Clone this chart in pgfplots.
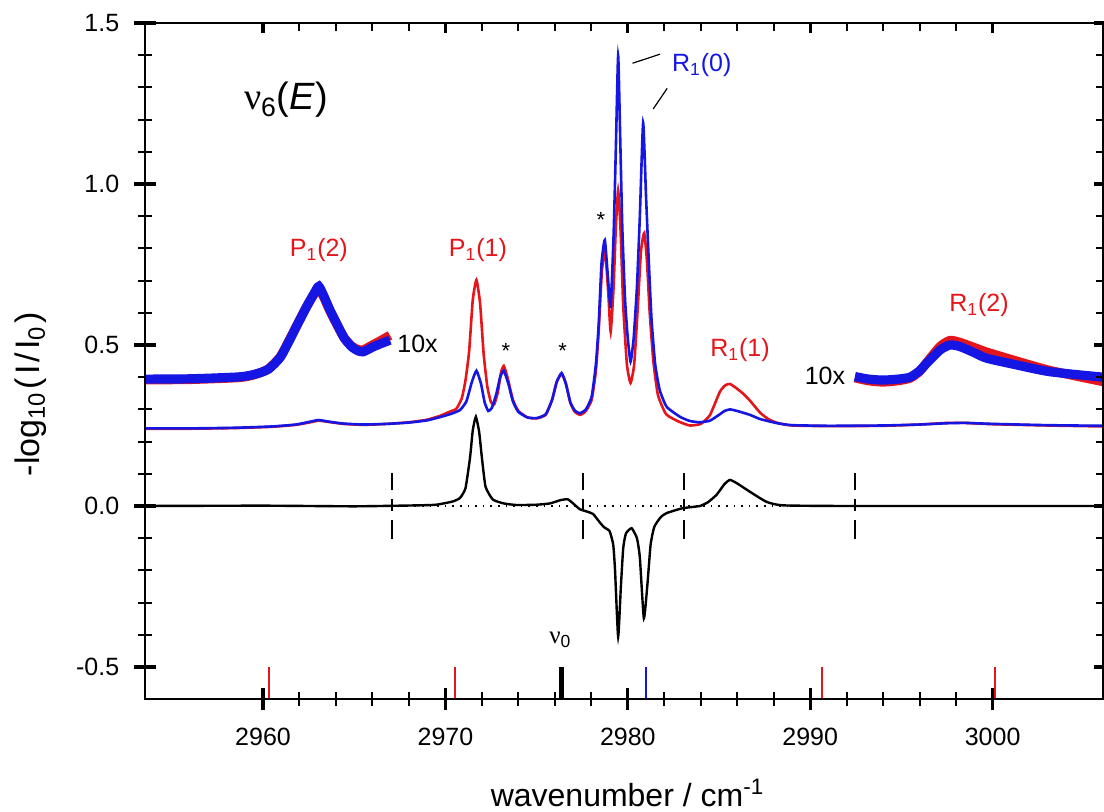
\documentclass[border=0pt]{standalone}
\usepackage{pgfplots}
\pgfplotsset{compat=1.18}
\usepackage{fontspec}
\setmainfont{Liberation Sans}
\newfontfamily\gr{Liberation Serif}
\definecolor{myred}{RGB}{228,22,28}
\definecolor{myblue}{RGB}{22,22,228}

\pgfplotstableread{
x y
2953.53 0.241
2956.0 0.241
2958.5 0.243
2960.5 0.247
2961.8 0.253
2962.6 0.262
2963.05 0.267
2963.6 0.262
2964.4 0.256
2965.5 0.253
2966.8 0.255
2968.0 0.259
2969.0 0.266
2969.7 0.276
2970.3 0.286
2970.8 0.298
2971.15 0.325
2971.45 0.385
2971.7 0.420
2971.95 0.380
2972.15 0.322
2972.35 0.295
2972.55 0.305
2972.8 0.350
2973.0 0.400
2973.2 0.420
2973.45 0.380
2973.7 0.325
2974.0 0.292
2974.5 0.275
2975.0 0.273
2975.5 0.285
2975.85 0.330
2976.1 0.385
2976.37 0.413
2976.6 0.380
2976.85 0.322
2977.1 0.296
2977.37 0.288
2977.7 0.300
2978.02 0.340
2978.25 0.440
2978.4 0.560
2978.56 0.754
2978.74 0.826
2978.92 0.702
2979.06 0.619
2979.22 0.840
2979.34 1.100
2979.47 1.398
2979.58 1.150
2979.70 0.860
2979.85 0.640
2980.0 0.520
2980.15 0.448
2980.32 0.520
2980.5 0.680
2980.66 0.900
2980.84 1.190
2981.0 0.960
2981.15 0.760
2981.3 0.580
2981.5 0.440
2981.75 0.360
2982.13 0.308
2982.86 0.277
2983.4 0.264
2983.95 0.260
2984.5 0.265
2985.0 0.283
2985.3 0.295
2985.6 0.300
2986.0 0.295
2986.7 0.283
2987.25 0.270
2988.2 0.257
2989.0 0.251
2991.0 0.249
2994.0 0.250
2996.0 0.253
2997.5 0.257
2998.5 0.258
3000.0 0.255
3003.0 0.251
3006.08 0.249
}\blue

\pgfplotstableread{
x y
2953.53 0.240
2956.0 0.240
2958.5 0.242
2960.5 0.246
2961.8 0.252
2962.6 0.260
2963.05 0.265
2963.6 0.261
2964.4 0.255
2965.5 0.252
2966.8 0.255
2968.0 0.260
2969.0 0.268
2969.7 0.280
2970.2 0.292
2970.6 0.302
2970.9 0.335
2971.1 0.390
2971.3 0.480
2971.5 0.640
2971.7 0.702
2971.9 0.630
2972.1 0.470
2972.3 0.370
2972.5 0.322
2972.68 0.316
2972.88 0.355
2973.05 0.415
2973.2 0.435
2973.4 0.400
2973.7 0.330
2974.0 0.295
2974.5 0.275
2975.0 0.272
2975.5 0.283
2975.85 0.330
2976.1 0.385
2976.37 0.410
2976.6 0.382
2976.85 0.320
2977.1 0.292
2977.4 0.283
2977.7 0.295
2978.02 0.330
2978.25 0.420
2978.4 0.540
2978.58 0.730
2978.76 0.790
2978.93 0.660
2979.06 0.541
2979.22 0.680
2979.34 0.860
2979.47 0.980
2979.6 0.860
2979.75 0.620
2979.95 0.440
2980.15 0.382
2980.35 0.440
2980.55 0.620
2980.72 0.790
2980.9 0.848
2981.05 0.760
2981.2 0.600
2981.4 0.450
2981.65 0.345
2982.1 0.285
2982.8 0.262
2983.4 0.250
2984.0 0.255
2984.5 0.282
2985.05 0.355
2985.35 0.375
2985.6 0.379
2985.9 0.368
2986.3 0.350
2986.7 0.327
2987.25 0.290
2987.7 0.270
2988.2 0.258
2989.0 0.250
2991.0 0.248
2994.0 0.249
2996.0 0.253
2997.5 0.258
2998.5 0.258
3000.0 0.254
3003.0 0.250
3006.08 0.247
}\red

\pgfplotstableread{
x y
2953.53 0.0
2960.0 0.001
2965.0 -0.001
2968.5 0.002
2969.5 0.004
2970.4 0.014
2970.8 0.025
2971.1 0.055
2971.35 0.150
2971.5 0.235
2971.67 0.277
2971.85 0.230
2972.0 0.150
2972.2 0.060
2972.6 0.020
2973.2 0.008
2973.9 0.003
2975.0 0.004
2975.73 0.008
2976.3 0.018
2976.7 0.021
2977.0 0.008
2977.37 -0.010
2977.8 -0.018
2978.1 -0.025
2978.45 -0.050
2978.7 -0.066
2979.0 -0.078
2979.2 -0.120
2979.3 -0.200
2979.47 -0.406
2979.62 -0.250
2979.75 -0.130
2979.9 -0.085
2980.21 -0.069
2980.5 -0.100
2980.66 -0.160
2980.88 -0.349
2981.08 -0.240
2981.25 -0.120
2981.45 -0.065
2981.8 -0.035
2982.13 -0.022
2983.0 -0.007
2983.95 0.000
2984.4 0.012
2984.87 0.035
2985.3 0.068
2985.6 0.081
2986.0 0.070
2986.7 0.044
2987.6 0.013
2988.5 0.002
2992.0 0.0
3006.08 0.0
}\diff

\pgfplotstableread{
x y
2953.53 0.394
2956.0 0.395
2958.7 0.401
2959.6 0.410
2960.3 0.425
2960.95 0.462
2961.5 0.520
2961.9 0.565
2962.4 0.620
2962.8 0.660
2963.06 0.682
2963.35 0.650
2963.7 0.605
2964.1 0.560
2964.45 0.522
2964.85 0.495
2965.2 0.482
2965.5 0.479
2966.0 0.493
2966.5 0.505
2966.96 0.515
}\bluetenL

\pgfplotstableread{
x y
2953.53 0.392
2956.0 0.393
2958.7 0.399
2959.6 0.409
2960.3 0.426
2960.95 0.464
2961.5 0.522
2961.9 0.566
2962.4 0.620
2962.8 0.658
2963.06 0.676
2963.35 0.646
2963.7 0.602
2964.1 0.558
2964.45 0.522
2964.85 0.497
2965.2 0.486
2965.5 0.485
2966.0 0.500
2966.5 0.515
2966.96 0.530
}\redtenL

\pgfplotstableread{
x y
2992.45 0.402
2993.2 0.394
2993.99 0.391
2994.8 0.394
2995.47 0.400
2996.0 0.420
2996.38 0.443
2997.11 0.484
2997.66 0.500
2998.21 0.495
2999.0 0.476
2999.67 0.459
3001.32 0.438
3003.14 0.417
3006.08 0.400
}\bluetenR

\pgfplotstableread{
x y
2992.45 0.398
2993.2 0.389
2993.99 0.385
2994.8 0.389
2995.47 0.397
2996.0 0.418
2996.38 0.445
2997.11 0.495
2997.66 0.514
2998.21 0.508
2999.0 0.492
2999.67 0.478
3001.32 0.450
3003.14 0.421
3006.08 0.386
}\redtenR

\begin{document}
\begin{tikzpicture}
\path[use as bounding box] (0,0) rectangle (552pt,406pt);
\begin{axis}[
  at={(72.5pt,56.4pt)}, anchor=south west,
  scale only axis, width=479.25pt, height=338.1pt,
  xmin=2953.53, xmax=3006.08, ymin=-0.6, ymax=1.5,
  axis line style={line width=1.3pt},
  xtick={2960,2970,2980,2990,3000},
  ytick={-0.5,0,0.5,1,1.5},
  minor x tick num=4, minor y tick num=4,
  xtick pos=left, ytick pos=left,
  tick align=center,
  major tick length=10.8pt, minor tick length=7pt,
  major tick style={line width=1.6pt, black},
  minor tick style={line width=1pt, black},
  tick label style={font=\fontsize{12.5}{14}\selectfont},
  /pgf/number format/assume math mode=true,
  xticklabel style={/pgf/number format/1000 sep={}, inner sep=0pt, anchor=north, yshift=-8.8pt},
  yticklabel style={/pgf/number format/fixed, /pgf/number format/fixed zerofill, /pgf/number format/precision=1, inner sep=0pt, anchor=east, xshift=-7.3pt},
  clip=true,
]
% dotted zero line
\addplot[black, line width=0.7pt, dash pattern=on 0.8pt off 3pt] coordinates {(2967.05,0) (2992.45,0)};
% dashed separators
\addplot[black, line width=1pt, dash pattern=on 8.5pt off 4.5pt on 6pt off 4.5pt on 9.5pt] coordinates {(2967.05,0.101) (2967.05,-0.104)};
\addplot[black, line width=1pt, dash pattern=on 8.5pt off 4.5pt on 6pt off 4.5pt on 9.5pt] coordinates {(2977.55,0.101) (2977.55,-0.104)};
\addplot[black, line width=1pt, dash pattern=on 8.5pt off 4.5pt on 6pt off 4.5pt on 9.5pt] coordinates {(2983.09,0.101) (2983.09,-0.104)};
\addplot[black, line width=1pt, dash pattern=on 8.5pt off 4.5pt on 6pt off 4.5pt on 9.5pt] coordinates {(2992.45,0.101) (2992.45,-0.104)};
% difference trace
\addplot[black, line width=1.2pt, smooth, tension=0.3] table {\diff};
% main traces
\addplot[myred, line width=1.3pt, smooth, tension=0.3] table {\red};
\addplot[myblue, line width=1.3pt, smooth, tension=0.3] table {\blue};
% 10x traces
\addplot[myred, line width=4.6pt, smooth, tension=0.4] table {\redtenL};
\addplot[myblue, line width=4.6pt, smooth, tension=0.4] table {\bluetenL};
\addplot[myred, line width=4.6pt, smooth, tension=0.4] table {\redtenR};
\addplot[myblue, line width=4.6pt, smooth, tension=0.4] table {\bluetenR};
% stick spectrum
\addplot[myred, line width=1.1pt] coordinates {(2960.34,-0.6) (2960.34,-0.5)};
\addplot[myred, line width=1.1pt] coordinates {(2970.52,-0.6) (2970.52,-0.5)};
\addplot[black, line width=2.2pt] coordinates {(2976.37,-0.6) (2976.37,-0.5)};
\addplot[myblue, line width=1.1pt] coordinates {(2980.99,-0.6) (2980.99,-0.5)};
\addplot[myred, line width=1.1pt] coordinates {(2990.63,-0.6) (2990.63,-0.5)};
\addplot[myred, line width=1.1pt] coordinates {(3000.14,-0.6) (3000.14,-0.5)};
% annotations
\node at (axis cs:2961.26,1.261) {\fontsize{19}{22}\selectfont{\gr ν}\textsubscript{6}(\textit{E})};
\node[anchor=base, myred, font=\fontsize{12.5}{14}\selectfont] at (axis cs:2963.06,0.774) {P\textsubscript{1}(2)};
\node[anchor=base, myred, font=\fontsize{12.5}{14}\selectfont] at (axis cs:2971.78,0.774) {P\textsubscript{1}(1)};
\node[anchor=base, myblue, font=\fontsize{12.5}{14}\selectfont] at (axis cs:2984.05,1.349) {R\textsubscript{1}(0)};
\node[anchor=base, myred, font=\fontsize{12.5}{14}\selectfont] at (axis cs:2986.15,0.464) {R\textsubscript{1}(1)};
\node[anchor=base, myred, font=\fontsize{12.5}{14}\selectfont] at (axis cs:2999.25,0.603) {R\textsubscript{1}(2)};
\node[anchor=base, black, font=\fontsize{12.5}{14}\selectfont] at (axis cs:2968.47,0.476) {10x};
\node[anchor=base, black, font=\fontsize{12.5}{14}\selectfont] at (axis cs:2990.81,0.376) {10x};
\node[black, font=\fontsize{11}{13}\selectfont, yshift=-2pt] at (axis cs:2973.32,0.495) {*};
\node[black, font=\fontsize{11}{13}\selectfont, yshift=-2pt] at (axis cs:2976.43,0.495) {*};
\node[black, font=\fontsize{11}{13}\selectfont, yshift=-2pt] at (axis cs:2978.53,0.90) {*};
\node[black, font=\fontsize{12.5}{14}\selectfont] at (axis cs:2976.3,-0.415) {{\gr ν}\textsubscript{0}};
\draw[black, line width=0.6pt] (axis cs:2981.76,1.403) -- (axis cs:2980.26,1.375);
\draw[black, line width=0.6pt] (axis cs:2982.16,1.297) -- (axis cs:2981.39,1.233);
\end{axis}
\begin{axis}[
  at={(72.5pt,56.4pt)}, anchor=south west,
  scale only axis, width=479.25pt, height=338.1pt,
  xmin=2953.53, xmax=3006.08, ymin=-0.6, ymax=1.5,
  axis line style={line width=1.3pt},
  xtick={2960,2970,2980,2990,3000},
  ytick={-0.5,0,0.5,1,1.5},
  minor x tick num=4, minor y tick num=4,
  xtick pos=right, ytick pos=right,
  tick align=inside,
  major tick length=5pt, minor tick length=3.8pt,
  major tick style={line width=1.6pt, black},
  minor tick style={line width=1pt, black},
  xticklabels={}, yticklabels={},
]
\end{axis}
\node[anchor=base] at (313.75pt,2.65pt) {\fontsize{16}{19}\selectfont wavenumber / cm\textsuperscript{-1}};
\node[rotate=90] at (15.5pt,209pt) {\fontsize{17}{20}\selectfont -log\textsubscript{10}\kern1.5pt(\kern1.5pt I\kern1.5pt/\kern1.5pt I\textsubscript{0}\kern1.5pt)};
\end{tikzpicture}
\end{document}
